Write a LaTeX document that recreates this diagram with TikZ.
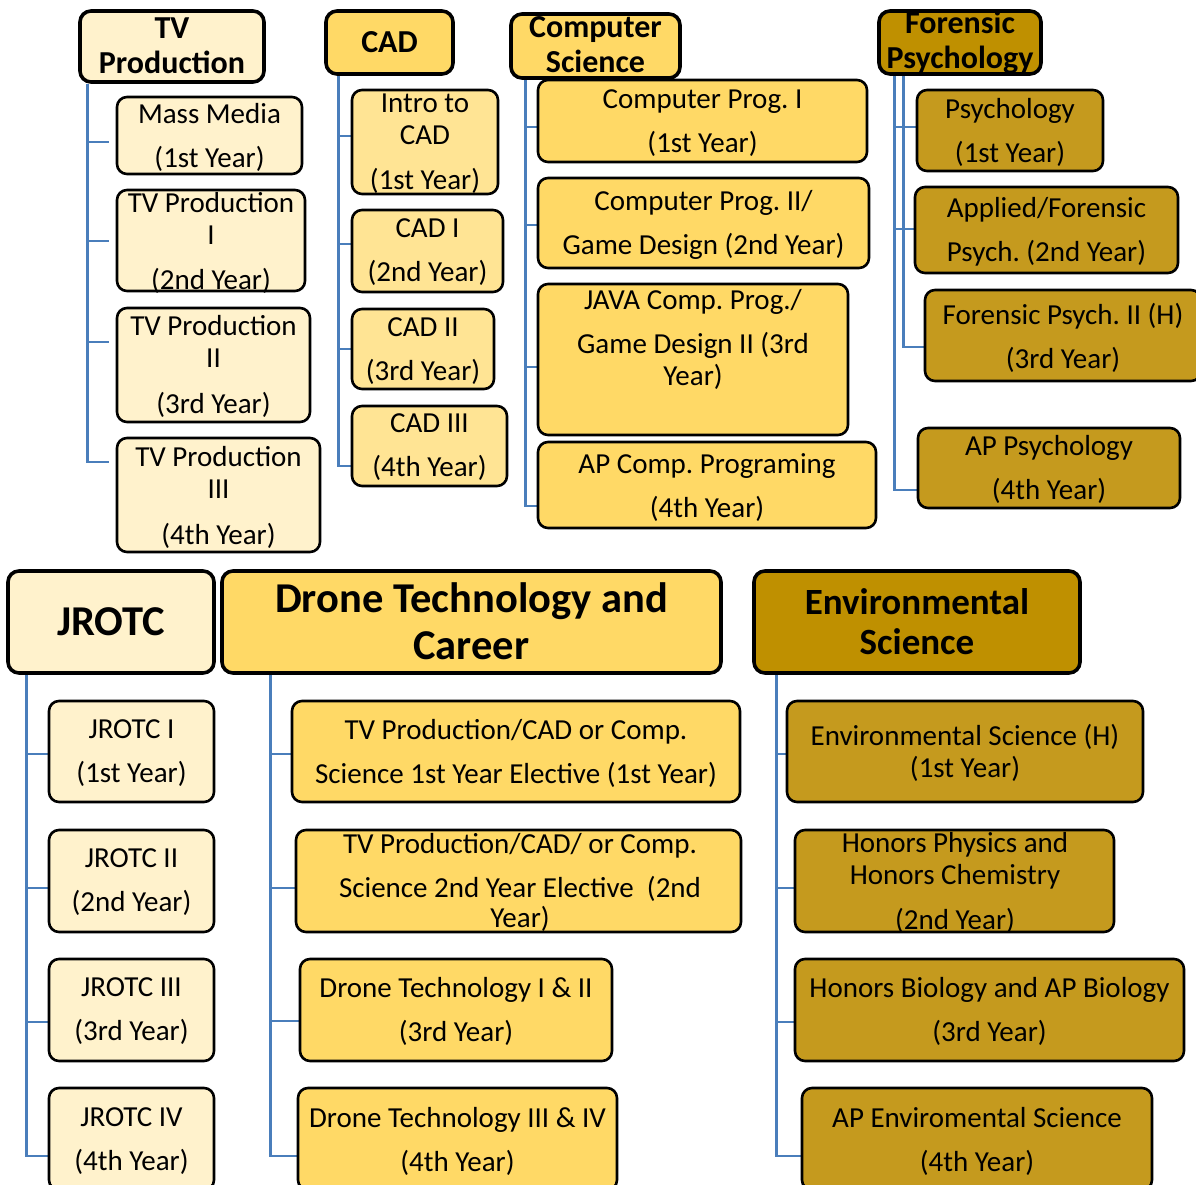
\documentclass[tikz,border=0pt]{standalone}
\usepackage{fontspec}
\setmainfont{Carlito}
\frenchspacing
\usetikzlibrary{backgrounds}
\pgfdeclarelayer{bottom}
\pgfsetlayers{bottom,background,main}
\definecolor{cream}{HTML}{FFF2CC}
\definecolor{yel}{HTML}{FFD966}
\definecolor{goldh}{HTML}{BF9000}
\definecolor{goldc}{HTML}{C59A1E}
\definecolor{linkblue}{HTML}{4A7EBB}
\tikzset{
  cbox/.style={draw=black, line width=2.6pt, rounded corners=10pt, inner sep=0pt},
  hbox/.style={draw=black, line width=3.6pt, rounded corners=11pt, inner sep=0pt},
  ctext/.style={align=center, font=\frenchspacing\fontsize{29}{32}\selectfont, inner sep=0pt, yshift=-2pt},
  htext/.style={align=center, font=\bfseries\fontsize{32}{35}\selectfont, inner sep=0pt},
  bigtext/.style={align=center, font=\bfseries\fontsize{42.5}{47}\selectfont, inner sep=0pt},
  envtext/.style={align=center, font=\bfseries\fontsize{37}{40}\selectfont, inner sep=0pt},
  link/.style={draw=linkblue, line width=2.9pt},
}
\newcommand\mkbox[7]{\node[#1, fill=#7, minimum width={#5pt-#3pt}, minimum height={#6pt-#4pt}] (#2) at ({(#3+#5)/2},{(#4+#6)/2}) {};}
\begin{document}
\begin{tikzpicture}[x=1pt,y=-1pt]
\useasboundingbox (0,0) rectangle (1196,1185);
\begin{pgfonlayer}{bottom}
\fill[white] (0,0) rectangle (1196,1185);
\end{pgfonlayer}
\clip (0,0) rectangle (1196,1185);

% ---------- TV Production ----------
\mkbox{hbox}{tvh}{80}{11}{264}{82}{cream}
\node[htext] (tvht) at (172,45.5) {TV\\Production};
\mkbox{cbox}{tv1}{117}{97}{302}{174}{cream}
\node[ctext] (tv1t) at (209.5,135) {Mass Media\\[12pt](1st Year)};
\mkbox{cbox}{tv2}{117}{190}{305}{291}{cream}
\node[ctext] (tv2t) at (211,240.5) {TV Production\\I\\[13pt](2nd Year)};
\mkbox{cbox}{tv3}{117}{308}{310}{422}{cream}
\node[ctext] (tv3t) at (213.5,364.5) {TV Production\\II\\[14pt](3rd Year)};
\mkbox{cbox}{tv4}{117}{438}{320}{552}{cream}
\node[ctext] (tv4t) at (218.5,495) {TV Production\\III\\[14pt](4th Year)};
\coordinate (tv1s) at (109,142);
\coordinate (tv2s) at (109,241);
\coordinate (tv3s) at (109,342);
\coordinate (tv4s) at (109,462);

% ---------- CAD ----------
\mkbox{hbox}{cadh}{326}{11}{453}{74}{yel}
\node[htext] (cadht) at (389.5,42) {CAD};
\mkbox{cbox}{cad1}{352}{90}{498}{194}{yel!70!white}
\node[ctext] (cad1t) at (425,141.5) {Intro to\\CAD\\[13pt](1st Year)};
\mkbox{cbox}{cad2}{352}{210}{503}{292}{yel!70!white}
\node[ctext] (cad2t) at (427.5,250.5) {CAD I\\[12pt](2nd Year)};
\mkbox{cbox}{cad3}{352}{309}{494}{389}{yel!70!white}
\node[ctext] (cad3t) at (423,349) {CAD II\\[12pt](3rd Year)};
\mkbox{cbox}{cad4}{352}{406}{507}{486}{yel!70!white}
\node[ctext] (cad4t) at (429.5,445.5) {CAD III\\[12pt](4th Year)};
\coordinate (cad1s) at (352,136);
\coordinate (cad2s) at (352,244);
\coordinate (cad3s) at (352,349);
\coordinate (cad4s) at (352,466);

% ---------- Computer Science ----------
\mkbox{hbox}{csh}{511}{14}{680}{78}{yel}
\node[htext] (csht) at (595.5,45) {Computer\\Science};
\mkbox{cbox}{cs1}{538}{80}{867}{162}{yel}
\node[ctext] (cs1t) at (702.5,121) {Computer Prog. I\\[12pt](1st Year)};
\mkbox{cbox}{cs2}{538}{178}{869}{268}{yel}
\node[ctext] (cs2t) at (703.5,222.5) {Computer Prog. II/\\[12pt]Game Design (2nd Year)};
\mkbox{cbox}{cs3}{538}{284}{848}{435}{yel}
\node[ctext] (cs3t) at (693,337.5) {JAVA Comp. Prog./\\[12pt]Game Design II (3rd\\Year)};
\mkbox{cbox}{cs4}{538}{442}{876}{528}{yel}
\node[ctext] (cs4t) at (707,485.5) {AP Comp. Programing\\[12pt](4th Year)};
\coordinate (cs1s) at (538,127);
\coordinate (cs2s) at (538,225);
\coordinate (cs3s) at (538,367);
\coordinate (cs4s) at (538,506);

% ---------- Forensic Psychology ----------
\mkbox{hbox}{fph}{879}{11}{1041}{74}{goldh}
\node[htext] (fpht) at (960,42.5) {Forensic\\Psychology};
\mkbox{cbox}{fp1}{917}{90}{1103}{171}{goldc}
\node[ctext] (fp1t) at (1010,130.5) {Psychology\\[12pt](1st Year)};
\mkbox{cbox}{fp2}{915}{187}{1178}{273}{goldc}
\node[ctext] (fp2t) at (1046.5,230) {Applied/Forensic\\[12pt]Psych. (2nd Year)};
\mkbox{cbox}{fp3}{925}{290}{1201}{381}{goldc}
\node[ctext] (fp3t) at (1063,335.5) {Forensic Psych. II (H)\\[12pt](3rd Year)};
\mkbox{cbox}{fp4}{918}{428}{1180}{508}{goldc}
\node[ctext] (fp4t) at (1049,467.5) {AP Psychology\\[12pt](4th Year)};
\coordinate (fp1s) at (917,127);
\coordinate (fp2s) at (915,229);
\coordinate (fp3s) at (925,347);
\coordinate (fp4s) at (918,490);

% ---------- JROTC ----------
\mkbox{hbox}{jh}{8}{571}{214}{673}{cream}
\node[bigtext] (jht) at (111,622) {JROTC};
\mkbox{cbox}{j1}{49}{701}{214}{802}{cream}
\node[ctext] (j1t) at (131.5,751.5) {JROTC I\\[12pt](1st Year)};
\mkbox{cbox}{j2}{49}{830}{214}{932}{cream}
\node[ctext] (j2t) at (131.5,880.5) {JROTC II\\[12pt](2nd Year)};
\mkbox{cbox}{j3}{49}{959}{214}{1061}{cream}
\node[ctext] (j3t) at (131.5,1009.5) {JROTC III\\[12pt](3rd Year)};
\mkbox{cbox}{j4}{49}{1088}{214}{1190}{cream}
\node[ctext] (j4t) at (131.5,1139) {JROTC IV\\[12pt](4th Year)};
\coordinate (j1s) at (49,754);
\coordinate (j2s) at (49,888);
\coordinate (j3s) at (49,1022);
\coordinate (j4s) at (49,1156);

% ---------- Drone Technology ----------
\mkbox{hbox}{dh}{222}{571}{721}{673}{yel}
\node[bigtext] (dht) at (471.5,621.5) {Drone Technology and\\Career};
\mkbox{cbox}{d1}{292}{701}{740}{802}{yel}
\node[ctext] (d1t) at (516,751.5) {TV Production/CAD or Comp.\\[12pt]Science 1st Year Elective (1st Year)};
\mkbox{cbox}{d2}{296}{830}{741}{932}{yel}
\node[ctext] (d2t) at (520,880) {TV Production/CAD/ or Comp.\\[12pt]Science 2nd Year Elective~~(2nd\\[-2pt]Year)};
\mkbox{cbox}{d3}{300}{959}{612}{1061}{yel}
\node[ctext] (d3t) at (456,1009.5) {Drone Technology I \& II\\[12pt](3rd Year)};
\mkbox{cbox}{d4}{298}{1088}{617}{1190}{yel}
\node[ctext] (d4t) at (457.5,1139) {Drone Technology III \& IV\\[12pt](4th Year)};
\coordinate (d1s) at (292,754);
\coordinate (d2s) at (296,888);
\coordinate (d3s) at (300,1021);
\coordinate (d4s) at (298,1156);

% ---------- Environmental Science ----------
\mkbox{hbox}{eh}{754}{571}{1080}{673}{goldh}
\node[envtext] (eht) at (917,622) {Environmental\\Science};
\mkbox{cbox}{e1}{787}{701}{1143}{802}{goldc}
\node[ctext] (e1t) at (965,751) {Environmental Science (H)\\(1st Year)};
\mkbox{cbox}{e2}{795}{830}{1114}{932}{goldc}
\node[ctext] (e2t) at (955,880.5) {Honors Physics and\\Honors Chemistry\\[13pt](2nd Year)};
\mkbox{cbox}{e3}{795}{959}{1184}{1061}{goldc}
\node[ctext] (e3t) at (989.5,1009.5) {Honors Biology and AP Biology\\[12pt](3rd Year)};
\mkbox{cbox}{e4}{802}{1088}{1152}{1190}{goldc}
\node[ctext] (e4t) at (977,1139) {AP Enviromental Science\\[12pt](4th Year)};
\coordinate (e1s) at (787,754);
\coordinate (e2s) at (795,888);
\coordinate (e3s) at (795,1022);
\coordinate (e4s) at (802,1156);

% ---------- connectors ----------
\begin{scope}[on background layer]
\foreach \c in {tv1s,tv2s,tv3s,tv4s}
  \draw[link] ([xshift=9pt]tvh.south west) |- (\c);
\foreach \c in {cad1s,cad2s,cad3s,cad4s}
  \draw[link] ([xshift=14pt]cadh.south west) |- (\c);
\foreach \c in {cs1s,cs2s,cs3s,cs4s}
  \draw[link] ([xshift=16pt]csh.south west) |- (\c);
\foreach \c in {fp1s,fp2s,fp4s}
  \draw[link] ([xshift=17pt]fph.south west) |- (\c);
\draw[link] ([xshift=26pt]fph.south west) |- (fp3s);
\foreach \c in {j1s,j2s,j3s,j4s}
  \draw[link] ([xshift=20pt]jh.south west) |- (\c);
\foreach \c in {d1s,d2s,d3s,d4s}
  \draw[link] ([xshift=50pt]dh.south west) |- (\c);
\foreach \c in {e1s,e2s,e3s,e4s}
  \draw[link] ([xshift=24pt]eh.south west) |- (\c);
\end{scope}
\end{tikzpicture}
\end{document}
